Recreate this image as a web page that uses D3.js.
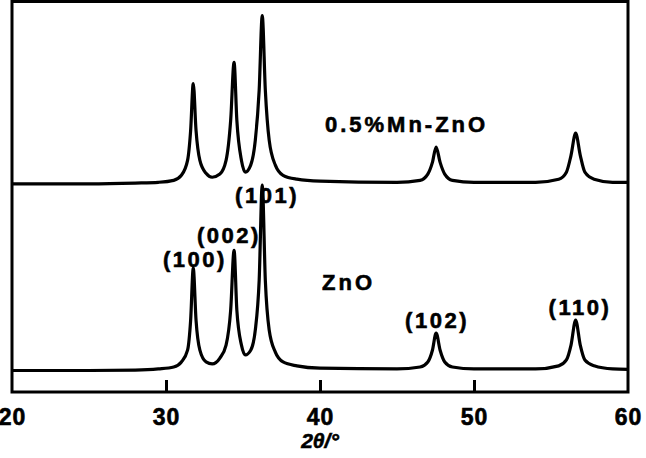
<!DOCTYPE html>
<html>
<head>
<meta charset="utf-8">
<script src="https://cdn.jsdelivr.net/npm/d3@7/dist/d3.min.js"></script>
<style>
  html, body { margin: 0; padding: 0; background: #fff; }
  svg { display: block; }
  text { font-family: "Liberation Sans", Arial, sans-serif; font-weight: bold; fill: #000; stroke: #000; stroke-width: 0.6px; }
</style>
</head>
<body>
<svg id="chart" width="646" height="458"></svg>
<script>
// ---- data, intensity in arbitrary units ----
const twoTheta = [20, 25, 28, 29.5, 30.5, 31.0, 31.4, 31.6, 31.77, 31.95, 32.2, 32.6, 33.0, 33.5, 33.9, 34.2, 34.42, 34.6, 34.9, 35.15, 35.5, 35.8, 36.05, 36.25, 36.45, 36.7, 37.1, 37.6, 38.5, 40, 45, 46.5, 47.0, 47.3, 47.54, 47.8, 48.1, 48.6, 50, 54, 55.5, 56.0, 56.3, 56.6, 56.9, 57.2, 57.8, 59, 60];
const znO = [55, 55, 56, 59, 64, 77, 107, 184, 317, 184, 107, 77, 72, 87, 120, 210, 363, 210, 120, 95, 107, 159, 286, 530, 286, 159, 102, 77, 67, 61, 59, 64, 77, 107, 151, 107, 77, 64, 59, 59, 67, 82, 120, 184, 120, 82, 67, 59, 58];
const mnZnO = [533, 533, 535, 537, 542, 555, 593, 670, 790, 670, 593, 560, 550, 558, 593, 696, 844, 696, 593, 563, 581, 645, 773, 964, 773, 645, 581, 555, 545, 540, 537, 542, 558, 588, 627, 588, 558, 542, 537, 537, 545, 563, 606, 663, 606, 563, 545, 537, 537];
const xTicks = [20, 30, 40, 50, 60];
const peakLabels = ["(100)", "(002)", "(101)", "(102)", "(110)"];
const peakLabelAt = [31.88, 34.09, 36.56, 47.6, 56.88];
const peakLabelVal = [320, 381, 483, 164, 197];
const seriesNames = ["ZnO", "0.5%Mn-ZnO"];
const seriesLabelAt = [40.13, 40.32];
const seriesLabelVal = [261, 665];
const xTitle = "2θ/°";

// ---- layout ----
const svg = d3.select("#chart");
const mLeft = 12, mRight = 628, mTop = 1.5, mBottom = 392;

const x = d3.scaleLinear().domain([20, 60]).range([mLeft, mRight]);
const y = d3.scaleLinear().domain([0, 1000]).range([mBottom, mTop]);

const line = d3.line()
  .x((d, i) => x(twoTheta[i]))
  .y(d => y(d))
  .curve(d3.curveMonotoneX);

[znO, mnZnO].forEach(s => {
  svg.append("path")
    .attr("d", line(s))
    .attr("fill", "none")
    .attr("stroke", "#000")
    .attr("stroke-width", 3.2)
    .attr("stroke-linejoin", "round");
});

// frame
svg.append("rect")
  .attr("x", mLeft).attr("y", mTop)
  .attr("width", mRight - mLeft).attr("height", mBottom - mTop)
  .attr("fill", "none").attr("stroke", "#000").attr("stroke-width", 3);

// x axis
const axis = d3.axisBottom(x).tickValues(xTicks).tickSizeInner(-12).tickSizeOuter(0).tickPadding(17);
const g = svg.append("g").attr("transform", `translate(0,${mBottom})`).call(axis);
g.select(".domain").remove();
g.selectAll(".tick line").attr("stroke", "#000").attr("stroke-width", 3)
  .filter(d => d === 20 || d === 60).remove();
g.selectAll(".tick text")
  .style("font-family", "'Liberation Sans', Arial, sans-serif")
  .style("font-weight", "bold")
  .style("font-size", "23px")
  .style("letter-spacing", "1px")
  .style("stroke", "#000").style("stroke-width", "0.6px")
  .attr("fill", "#000");

svg.append("text")
  .attr("x", x(40)).attr("y", 448)
  .attr("text-anchor", "middle")
  .style("font-size", "21px").style("font-style", "italic")
  .text(xTitle);

// peak labels
peakLabels.forEach((t, i) => {
  svg.append("text")
    .attr("x", x(peakLabelAt[i])).attr("y", y(peakLabelVal[i]))
    .attr("text-anchor", "middle")
    .style("font-size", "22px").style("letter-spacing", "2.5px")
    .text(t);
});

seriesNames.forEach((t, i) => {
  svg.append("text")
    .attr("x", x(seriesLabelAt[i])).attr("y", y(seriesLabelVal[i]))
    .style("font-size", "22px").style("letter-spacing", "3px")
    .text(t);
});
</script>
</body>
</html>
